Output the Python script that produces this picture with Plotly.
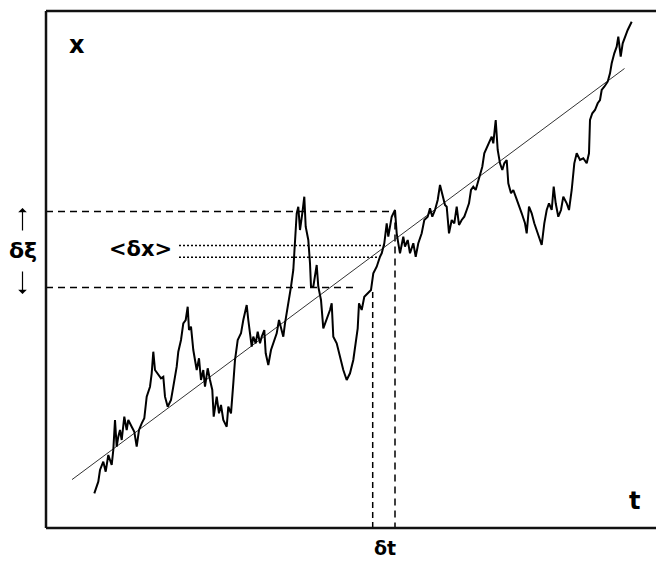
import plotly.graph_objects as go

# Random walk x(t) (arbitrary units: t to the right, x upward)
walk_t = [48.3, 52.3, 54, 57.3, 59.7, 62.3, 65.7, 67.3, 69, 70.7, 72.3, 74, 75.7, 78.3, 80.7, 82.3,
          85.7, 88.3, 90.7, 93, 95.7, 98.3, 100.7, 104, 105.7, 107.3, 109, 112.3, 115, 117.3, 119,
          121.7, 125, 127.3, 130.7, 132.3, 135, 137.3, 139.7, 141.7, 143, 145, 147.3, 150.7, 153,
          155, 157.3, 159, 161.7, 164, 166.3, 167.7, 170.7, 173, 175, 177.3, 180.7, 182.3, 185,
          187.3, 189, 191.7, 195, 197.3, 200.7, 202.3, 204, 205.7, 207.3, 209.7, 211.7, 214, 215.7,
          218.3, 219.7, 222.3, 225, 227.3, 230.7, 233, 235, 237.3, 239, 240.7, 242.3, 245, 247.3,
          249, 250.7, 252.3, 254, 256.3, 258.3, 259.7, 262.3, 264, 265, 267.3, 269, 270.7, 272.3,
          275, 277.3, 280.7, 284, 285.7, 287.3, 290.7, 294, 297.3, 300.7, 304, 307.3, 311.7, 313,
          315.7, 318.3, 321.7, 325, 327.3, 330.7, 334, 335.7, 338.3, 340.7, 342.3, 345.7, 349,
          350.7, 352.3, 354, 357.3, 359, 361.7, 364, 367.3, 369.7, 372.3, 375.7, 378.3, 381.7,
          384, 386.3, 389, 391.7, 394, 396.3, 399, 400.7, 403, 405.7, 408.3, 410.7, 413, 415.7,
          418.3, 420.7, 423, 425, 427.3, 429.7, 432.3, 435, 436.3, 438.3, 442.3, 445.7, 447.3,
          449.7, 451.7, 454, 456.3, 458.3, 460.7, 462.3, 465, 467.3, 469.7, 472.3, 475.7, 479,
          480.7, 483, 485.7, 488.3, 491.7, 495.7, 498.3, 500.7, 503, 505.7, 507.7, 509.7, 512.3,
          515, 517.3, 520.7, 523, 525.7, 528.3, 530.7, 534, 537.3, 540.7, 543, 544, 546.3, 549,
          551.7, 554, 555.7, 558.3, 561.7, 564, 565.7, 568.3, 570.7, 572.3, 574.7, 576.7, 579,
          581.7, 585.7]
walk_x = [34.7, 46.3, 58, 66.3, 56.3, 73, 63, 78, 108, 81.3, 91.3, 98, 88, 111.3, 98, 108,
          101.3, 96.3, 81.3, 98, 104.7, 109.7, 131.3, 141.3, 154.7, 176.3, 158, 153, 149.7, 151.3,
          131.3, 121.3, 128, 141.3, 161.3, 176.3, 188, 204.7, 208, 221.3, 198, 201.3, 178, 158,
          169.7, 148, 158, 141.3, 159.7, 148, 138, 111.3, 131.3, 114.7, 123, 108, 101.3, 121.3,
          114.7, 144.7, 168, 188, 194.7, 208, 223, 208, 194.7, 181.3, 191.3, 184.7, 196.3, 184.7,
          191.3, 198, 174.7, 163, 178, 184.7, 194.7, 208, 201.3, 191.3, 204.7, 214.7, 221.3,
          241.3, 258, 291.3, 314.7, 321.3, 298, 314.7, 331.3, 301.3, 288, 264.7, 241.3, 241.3,
          254.7, 263, 241.3, 228, 199.7, 208, 218, 224.7, 191.3, 184.7, 171.3, 158, 148, 154.7,
          168, 199.7, 224.7, 218, 231.3, 234.7, 238, 254.7, 261.3, 271.3, 274.7, 284.7, 304.7,
          291.3, 311.3, 318, 294.7, 284.7, 274.7, 291.3, 281.3, 288, 274.7, 284.7, 271.3, 284.7,
          294.7, 308, 311.3, 319.7, 311.3, 318, 328, 343, 334.7, 323, 321.3, 294.7, 308, 304.7,
          321.3, 303, 308, 311.3, 318, 324.7, 338, 341.3, 338, 346.3, 354.7, 361.3, 374.7, 384.7,
          391.3, 384.7, 408, 378, 364.7, 358, 364.7, 368, 344.7, 334.7, 338, 331.3, 324.7, 314.7,
          304.7, 294.7, 321.3, 314.7, 304.7, 294.7, 283, 304.7, 318, 324.7, 318, 341.3, 324.7,
          311.3, 318, 331.3, 324.7, 318, 338, 364.7, 374.7, 368, 369.7, 364.7, 374.7, 408, 414.7,
          418, 424.7, 428, 438, 441.3, 446.3, 454.7, 464.7, 474.7, 481.3, 491.3, 471.3, 484.7,
          491.3, 498, 506.3]

# Mean drift line <x(t)>
trend_t = [26, 578.5]
trend_x = [48.4, 459.5]

# Construction lines (levels and times)
xi_hi, xi_lo = 316.5, 240.5          # delta-xi band
dx_hi, dx_lo = 282.4, 270.7          # <delta x> band
dt_lo, dt_hi = 326.7, 349            # delta-t interval
dx_start = 133
dx_hi_end, dx_lo_end = 339, 332
xi_lo_end = 312
dt_lo_top = 236

# page has an 8px body margin, so the figure is 656x554 and offset by 8px
T_MIN, T_MAX = -38, 618
X_MIN, X_MAX = -34, 520
FRAME_TOP = 517

fig = go.Figure()

BLACK = "#000000"
dash_long = "7px,5px"
dash_short = "2px,2px"
dash_vert = "6px,4px"

fig.add_trace(go.Scatter(x=[0, dt_hi, dt_hi], y=[xi_hi, xi_hi, 0], mode="lines",
                         line=dict(color=BLACK, width=1.5, dash=dash_long), hoverinfo="skip"))
fig.add_trace(go.Scatter(x=[0, xi_lo_end], y=[xi_lo, xi_lo], mode="lines",
                         line=dict(color=BLACK, width=1.5, dash=dash_long), hoverinfo="skip"))
fig.add_trace(go.Scatter(x=[dt_lo, dt_lo], y=[0, dt_lo_top], mode="lines",
                         line=dict(color=BLACK, width=1.5, dash=dash_vert), hoverinfo="skip"))
fig.add_trace(go.Scatter(x=[dx_start, dx_hi_end], y=[dx_hi, dx_hi], mode="lines",
                         line=dict(color=BLACK, width=1.5, dash=dash_short), hoverinfo="skip"))
fig.add_trace(go.Scatter(x=[dx_start, dx_lo_end], y=[dx_lo, dx_lo], mode="lines",
                         line=dict(color=BLACK, width=1.5, dash=dash_short), hoverinfo="skip"))

fig.add_trace(go.Scatter(x=trend_t, y=trend_x, mode="lines",
                         line=dict(color="#333333", width=1), hoverinfo="skip"))
fig.add_trace(go.Scatter(x=walk_t, y=walk_x, mode="lines",
                         line=dict(color=BLACK, width=2), hoverinfo="skip"))

for (x0, y0, x1, y1) in [(0, 0, 0, FRAME_TOP), (0, FRAME_TOP, T_MAX + 10, FRAME_TOP),
                         (0, 0, T_MAX + 10, 0)]:
    fig.add_shape(type="line", x0=x0, y0=y0, x1=x1, y1=y1, xref="x", yref="y",
                  line=dict(color="#111111", width=2.5))

FONT = "DejaVu Sans"
def label(txt, t, x, size=22):
    fig.add_annotation(x=t, y=x, xref="x", yref="y", text=f"<b>{txt}</b>", showarrow=False,
                       xanchor="center", yanchor="middle",
                       font=dict(family=FONT, size=size, color=BLACK))

label("x", 31, 483, 24)
label("t", 588, 27, 24)
label("δt", 339, -20, 19)
label("&lt;δx&gt;", 94, 279, 21)
label("δξ", -23, 278, 22)

for (y_tail, y_head) in [(296, 320), (258, 234)]:
    fig.add_annotation(x=-23.5, y=y_head, ax=-23.5, ay=y_tail, xref="x", yref="y",
                       axref="x", ayref="y", text="", showarrow=True, arrowhead=1,
                       arrowsize=1.2, arrowwidth=1.2, arrowcolor=BLACK)

fig.update_xaxes(range=[T_MIN, T_MAX], visible=False)
fig.update_yaxes(range=[X_MIN, X_MAX], visible=False)
fig.update_layout(width=656, height=554, margin=dict(l=0, r=0, t=0, b=0),
                  plot_bgcolor="white", paper_bgcolor="white", showlegend=False)

fig.write_html("out.html")
